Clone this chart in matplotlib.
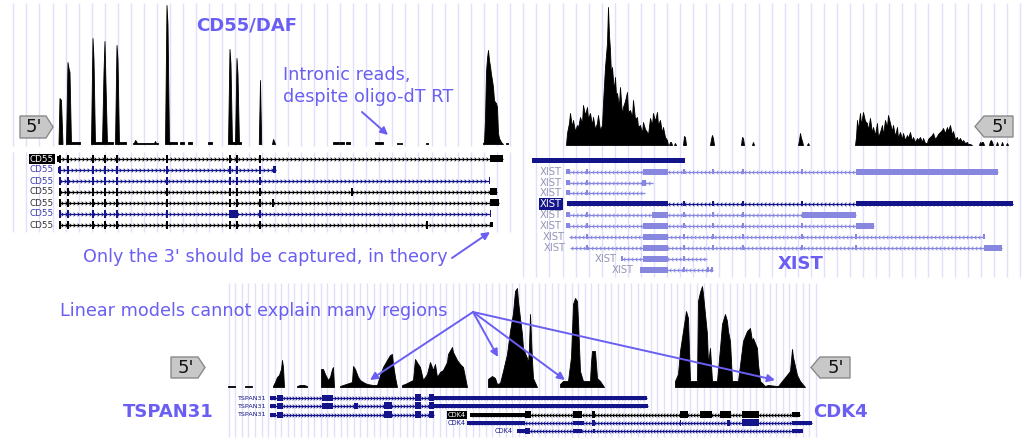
import numpy as np
import matplotlib.pyplot as plt
from matplotlib.patches import Rectangle, Polygon
from matplotlib.path import Path

# ---- coverage tracks: (positions, read heights) per covered stretch ----
cd55_cov = [
    ([58.5, 59.5, 61, 62.5], [0, 46, 44, 0]),
    ([66, 67.5, 68.5, 69.5, 71], [0, 82, 76, 72, 0]),
    ([70.5, 80], [1.5, 1.5]),
    ([91, 92.5, 93.5, 95], [0, 106, 85, 0]),
    ([94.5, 102], [1.5, 1.5]),
    ([102, 103.5, 104.5, 105.5, 107], [0, 72, 103, 60, 0]),
    ([106.5, 113], [1.5, 1.5]),
    ([115, 116.5, 117.5, 119], [0, 99, 85, 0]),
    ([118.5, 126], [1.5, 1.5]),
    ([133, 134, 135, 136, 137, 150, 154, 155, 156, 158], [1, 1, 4, 3, 1, 1, 1, 3, 1, 1]),
    ([165, 166.5, 167.5, 169], [0, 139, 120, 0]),
    ([168.5, 177], [1.5, 1.5]),
    ([180, 184], [1.5, 1.5]), ([188, 192], [1.5, 1.5]), ([208, 212], [1.5, 1.5]),
    ([228, 229.5, 230.5, 232], [0, 95, 80, 0]),
    ([231.5, 235.5], [1.5, 1.5]),
    ([235, 236.5, 237.5, 239], [0, 86, 70, 0]),
    ([238.5, 241], [1.5, 1.5]),
    ([258.8, 260, 261.2], [0, 64, 0]),
    ([272, 273, 274, 275], [0, 5, 3, 0]),
    ([333, 339], [1.5, 1.5]), ([340, 344], [1.5, 1.5]), ([346, 350], [1.5, 1.5]),
    ([375, 383], [1.5, 1.5]), ([397, 399], [1, 1]), ([400, 402], [1, 1]), ([426, 427.5], [1, 1]),
    ([483, 484, 485, 486, 487, 488, 489, 490, 491, 492, 493, 494, 495, 496, 497, 498, 499, 500, 501, 503],
     [1, 2, 25, 72, 86, 94, 84, 78, 70, 64, 57, 44, 42, 41, 37, 11, 6, 4, 2, 0]),
    ([506, 508], [1, 1]),
]

xist_cov = [
    ([566, 567, 569, 570, 572, 573, 575, 577, 578, 580, 582, 583, 585, 587, 588, 590, 592, 593, 595,
      597, 598, 600, 602, 603, 604, 605, 606, 607, 608, 609, 610, 611, 612, 613, 614, 615, 616, 617,
      618, 619, 620, 622, 623, 625, 627, 628, 630, 632, 633, 635, 637, 638, 640, 642, 643, 645, 647,
      648, 650, 652, 653, 655, 657, 658, 660, 662, 663, 665, 667, 668],
     [0, 12, 22, 32, 18, 25, 14, 20, 17, 28, 22, 40, 30, 38, 26, 32, 20, 28, 16, 22, 30, 15, 20, 42,
      60, 78, 90, 102, 138, 110, 95, 70, 78, 65, 55, 68, 50, 52, 45, 40, 58, 30, 38, 44, 53, 33, 35,
      28, 45, 26, 28, 18, 20, 12, 23, 16, 13, 10, 27, 20, 32, 24, 33, 20, 25, 12, 18, 8, 5, 0]),
    ([669, 670, 671, 672], [0, 3, 3, 0]), ([674, 675, 676], [0, 2, 0]),
    ([683, 684, 685, 686], [0, 9, 8, 0]),
    ([710, 711, 712, 713, 714], [0, 6, 10, 7, 0]),
    ([741, 742, 743, 744], [0, 8, 7, 0]),
    ([752, 753, 754], [0, 3, 0]),
    ([798, 799, 800, 801, 802, 803], [0, 5, 12, 7, 4, 0]),
    ([807, 808, 809], [0, 2, 0]),
    ([855, 856, 857, 858, 860, 861, 863, 865, 867, 868, 870, 872, 873, 875, 877, 878, 880, 882, 883,
      885, 887, 888, 890, 892, 893, 895, 897, 898, 900, 902, 903, 905, 907, 908, 910, 912, 913, 915,
      917, 918, 920, 922, 923, 925, 927, 928, 930, 932, 933, 935, 937, 938, 940, 942, 943, 945, 947,
      948, 950, 952, 953, 955, 957, 958, 960, 962, 963, 965, 967, 968, 970, 972],
     [0, 8, 25, 15, 32, 20, 33, 24, 22, 15, 27, 12, 18, 10, 22, 8, 13, 20, 10, 25, 18, 30, 22, 14, 20,
      9, 18, 7, 13, 6, 12, 5, 10, 7, 13, 4, 8, 3, 7, 5, 8, 3, 7, 2, 2, 6, 8, 10, 12, 6, 9, 11, 13, 15,
      17, 12, 18, 14, 20, 10, 14, 6, 8, 4, 7, 3, 5, 2, 3, 1, 1, 0]),
    ([979, 980, 981, 982, 983, 984], [0, 3, 2, 3, 3, 0]),
    ([989, 990, 991, 992, 993], [0, 4, 5, 3, 0]),
    ([996, 997, 998], [0, 3, 0]), ([1001, 1002, 1003], [0, 3, 0]), ([1006, 1007, 1008], [0, 2, 0]),
]

bottom_cov = [
    ([228, 235], [1, 1]), ([245, 252], [1, 1]),
    ([273, 275, 277, 279, 281, 282, 283, 284], [1, 5, 10, 12, 18, 27, 20, 0]),
    ([297, 300, 304, 307], [1, 2, 2, 1]),
    ([321, 323, 325, 328, 330, 332, 333, 334], [18, 18, 13, 7, 10, 18, 20, 0]),
    ([340, 352, 353, 355, 358, 360, 363, 367, 373, 377, 380, 383, 387, 390, 392, 393, 395, 397],
     [1, 5, 21, 18, 10, 7, 5, 3, 2, 2, 12, 20, 27, 32, 33, 23, 10, 0]),
    ([402, 405, 413, 415, 418, 420, 423, 427, 430, 433, 435, 437, 440, 443, 447, 448, 452, 453, 457,
      460, 463, 467],
     [2, 3, 7, 28, 23, 20, 7, 13, 25, 17, 23, 10, 15, 17, 25, 33, 40, 35, 27, 23, 20, 0]),
    ([488, 492, 495, 497, 500, 503, 507, 510, 513, 515, 517, 518, 520, 522, 523, 527, 528, 529, 530,
      531, 532, 533, 537],
     [8, 11, 9, 3, 4, 16, 33, 56, 74, 96, 99, 86, 69, 53, 39, 29, 23, 40, 73, 50, 26, 9, 0]),
    ([560, 563, 568, 571, 572, 573, 575, 577, 578, 580, 583, 590, 591, 592, 595, 597, 600, 604],
     [3, 6, 6, 30, 56, 83, 89, 86, 66, 16, 6, 6, 25, 36, 36, 9, 6, 0]),
    ([675, 678, 680, 683, 686, 688, 690, 692, 697, 698, 700, 702, 703, 707, 708, 710, 712, 717, 720,
      722, 725, 727, 728, 730, 732, 738, 743, 747, 750, 752, 753, 757, 758, 760, 765, 768, 777, 778,
      790, 792, 793, 797, 800, 805],
     [6, 13, 36, 56, 76, 69, 6, 6, 6, 86, 95, 101, 93, 53, 23, 39, 6, 6, 39, 63, 73, 66, 56, 46, 6,
      6, 46, 56, 59, 46, 49, 39, 23, 6, 1, 2, 1, 1, 16, 38, 30, 12, 6, 0]),
]

# ---- transcript models: (y, line start, line end, exons [(start, end, height)], extra ticks) ----
cd55_ticks = [60, 68, 93, 105, 117, 167, 230, 237, 260]
cd55_rows = [
    (159, 57, 503, [(56.5, 59, 6), (490, 503, 7)], []),
    (170, 58, 276, [(58, 60, 6), (272.5, 276, 7)], []),
    (181, 59, 489, [(59, 61, 6), (488.5, 489.5, 7)], []),
    (192, 59, 497, [(59, 61, 6), (490, 497, 7)], [352]),
    (203, 60, 499, [(490, 499, 7)], [273]),
    (214, 60, 490, [(229, 237, 8), (489.5, 490.5, 7)], []),
    (225, 60, 492, [(490, 492.5, 5)], [427]),
]
cd55_style = ['sel', 'blue', 'blue', 'black', 'black', 'blue', 'black']

xist_bar = (532, 685)
xist_rows = [
    (172, 567, 998, [(566, 570, 5), (643, 668, 6), (856, 998, 6)], [587, 684, 713, 743, 802]),
    (183, 567, 653, [(566, 570, 5), (642, 646, 6)], [587]),
    (193, 567, 645, [(566, 570, 5)], [587]),
    (204, 567, 1013, [(567, 668, 5), (856, 1013, 5)], [684, 713, 743, 802]),
    (215, 567, 856, [(566, 570, 5), (652, 668, 6), (802, 856, 6)], [587, 684, 713, 743]),
    (226, 567, 874, [(566, 570, 5), (643, 668, 6), (856, 874, 6)], [587, 684, 713, 743, 802]),
    (237, 569, 984, [(643, 668, 6)], [587, 684, 713, 743, 802, 856, 984]),
    (248, 570, 1002, [(643, 668, 6), (984, 1002, 6)], [587, 684, 713, 743, 802, 856]),
    (259, 622, 707, [(621, 623, 5), (643, 668, 6)], [684]),
    (270, 640, 713, [(640, 668, 6), (707, 709, 5), (711, 713, 5)], [684]),
]
xist_label_x = [562, 562, 562, 562, 562, 562, 565, 566, 617, 634]

tspan_rows = [
    (398, 270, 647, [(270, 276, 4), (277, 283, 6.5), (322, 333, 6.5), (415, 421, 7), (429, 434, 7), (434, 647, 4)]),
    (406, 270, 648, [(270, 276, 4), (277, 283, 6.5), (322, 333, 6.5), (354, 358, 6), (384, 392, 7),
                     (415, 421, 7), (429, 434, 7), (434, 648, 4)]),
    (415, 270, 434, [(270, 276, 4), (277, 283, 6.5), (384, 392, 7), (415, 421, 7), (429, 434, 7)]),
]
cdk4_rows = [
    (415, 470, 800, [(470, 525, 4), (525, 531, 7), (573, 582, 7), (592, 595, 7), (680, 688, 7),
                     (700, 712, 7), (720, 731, 7), (742, 759, 7), (792, 800, 5)]),
    (423, 467, 812, [(467, 525, 4), (573, 584, 4), (592, 595, 6), (679.5, 681, 6), (727, 730, 6),
                     (742, 759, 7), (792, 812, 4)]),
    (431, 517, 802, [(517, 525, 4), (525, 530, 6), (573, 582, 4), (593, 595, 4), (792, 803, 4)]),
]

ACCENT = '#6a5ff2'
NAVY = '#14148a'
LIGHT = '#8787e0'

fig = plt.figure(figsize=(10.24, 4.4), dpi=100)
ax = fig.add_axes([0, 0, 1, 1])
ax.set_xlim(0, 1024)
ax.set_ylim(440, 0)
ax.axis('off')

# browser background grids
grid_c = '#e0e0fb'
xs = np.arange(13.3, 516, 13.07)
ax.vlines(xs, 3, 146, color=grid_c, lw=1, zorder=0)
ax.vlines(xs, 152, 232, color=grid_c, lw=1, zorder=0)
ax.vlines(np.arange(523.3, 1022, 13.07), 3, 277, color=grid_c, lw=1, zorder=0)
ax.vlines(np.arange(228.5, 816, 6.6), 283, 437, color=grid_c, lw=1, zorder=0)


def draw_cov(segments, base):
    for px, h in segments:
        ax.fill_between(px, base, base - np.array(h), color='black', lw=0.6, zorder=2)


draw_cov(cd55_cov, 144)
draw_cov(xist_cov, 145)
draw_cov(bottom_cov, 387)

chev_r = Path([(-0.5, 1), (0.5, 0), (-0.5, -1)], [Path.MOVETO, Path.LINETO, Path.LINETO])
chev_l = Path([(0.5, 1), (-0.5, 0), (0.5, -1)], [Path.MOVETO, Path.LINETO, Path.LINETO])


def draw_tx(y, x0, x1, exons, ticks, color, strand, tick_h=8, step=4.0):
    ax.plot([x0, x1], [y, y], color=color, lw=0.9, zorder=3, solid_capstyle='butt')
    cx = np.arange(x0 + 2, x1 - 1, step)
    ax.plot(cx, np.full(len(cx), y), ls='none', marker=chev_r if strand > 0 else chev_l,
            ms=2.6, mew=0.6, mec=color, mfc='none', zorder=3)
    for a, b, h in exons:
        ax.add_patch(Rectangle((a, y - h / 2), b - a, h, color=color, lw=0, zorder=4))
    for t in ticks:
        ax.add_patch(Rectangle((t - 0.7, y - tick_h / 2), 1.4, tick_h, color=color, lw=0, zorder=4))


def label(x, y, text, fg, bg=None, size=6.3):
    kw = dict(ha='right', va='center', fontsize=size, color=fg, zorder=5)
    if bg is not None:
        kw['bbox'] = dict(boxstyle='square,pad=0.08', fc=bg, ec='none')
    ax.text(x, y, text, **kw)


# CD55 transcripts
for (y, a, b, ex, extra), st in zip(cd55_rows, cd55_style):
    col = NAVY if st == 'blue' else 'black'
    ticks = [t for t in cd55_ticks if a <= t <= b] + extra
    draw_tx(y, a, b, ex, ticks, col, +1)
    if st == 'sel':
        label(54, y, 'CD55', 'white', 'black')
    else:
        label(54, y, 'CD55', '#3b3bb3' if st == 'blue' else '#333333')

# XIST transcripts
ax.add_patch(Rectangle((xist_bar[0], 161 - 2.5), xist_bar[1] - xist_bar[0], 5, color=NAVY, lw=0, zorder=4))
for i, ((y, a, b, ex, ticks), lx) in enumerate(zip(xist_rows, xist_label_x)):
    if i == 3:
        draw_tx(y, a, b, ex, ticks, NAVY, -1, tick_h=5)
        label(lx, y, 'XIST', 'white', NAVY, size=7.2)
    else:
        draw_tx(y, a, b, ex, ticks, LIGHT, -1, tick_h=5)
        label(lx, y, 'XIST', '#9494b4', size=7.2)

# TSPAN31 / CDK4 transcripts
for y, a, b, ex in tspan_rows:
    draw_tx(y, a, b, ex, [], NAVY, +1, step=3.0)
    label(266, y, 'TSPAN31', NAVY, size=4.6)
for i, (y, a, b, ex) in enumerate(cdk4_rows):
    if i == 0:
        draw_tx(y, a, b, ex, [], 'black', -1, step=3.0)
        label(466, y, 'CDK4', 'white', 'black', size=4.8)
    else:
        draw_tx(y, a, b, ex, [], NAVY, -1, step=3.0)
        label(466 if i == 1 else 513, y, 'CDK4', NAVY, size=4.8)


# 5' end markers
def five_prime(x0, x1, y0, y1, right):
    ym = (y0 + y1) / 2
    if right:
        pts = [(x0, y0), (x1 - 7, y0), (x1, ym), (x1 - 7, y1), (x0, y1)]
        tx = (x0 + x1 - 7) / 2
    else:
        pts = [(x0, ym), (x0 + 9, y0), (x1, y0), (x1, y1), (x0 + 9, y1)]
        tx = (x0 + 9 + x1) / 2
    ax.add_patch(Polygon(pts, closed=True, fc='#c8c8c8', ec='#8a8a8a', lw=1, zorder=6))
    ax.text(tx + 1, ym + 0.5, "5'", ha='center', va='center', fontsize=13, color='#111111', zorder=7)


five_prime(20, 53, 116, 138, True)
five_prime(975, 1013, 116, 137, False)
five_prime(171, 205, 357, 378, True)
five_prime(811, 850, 357, 378, False)

# titles and annotations
ax.text(196, 25, 'CD55/DAF', fontsize=13, fontweight='bold', color=ACCENT, va='center', zorder=7)
ax.text(778, 264, 'XIST', fontsize=13, fontweight='bold', color=ACCENT, va='center', zorder=7)
ax.text(123, 412, 'TSPAN31', fontsize=13, fontweight='bold', color=ACCENT, va='center', zorder=7)
ax.text(813, 412, 'CDK4', fontsize=13, fontweight='bold', color=ACCENT, va='center', zorder=7)

ax.text(283, 75, 'Intronic reads,', fontsize=12.7, color=ACCENT, va='center', zorder=7)
ax.text(283, 97, 'despite oligo-dT RT', fontsize=12.7, color=ACCENT, va='center', zorder=7)
ax.text(83, 257, "Only the 3' should be captured, in theory", fontsize=12.7, color=ACCENT,
        va='center', zorder=7)
ax.text(60, 311, 'Linear models cannot explain many regions', fontsize=12.7, color=ACCENT,
        va='center', zorder=7)

arrow_kw = dict(arrowstyle='-|>', color=ACCENT, lw=1.4, mutation_scale=11, shrinkA=0, shrinkB=0)
ax.annotate('', xy=(388, 135), xytext=(362, 112), arrowprops=arrow_kw, zorder=8)
ax.annotate('', xy=(490, 232), xytext=(452, 258), arrowprops=arrow_kw, zorder=8)
for hx, hy in [(370, 380), (498, 357), (565, 380), (775, 380)]:
    ax.annotate('', xy=(hx, hy), xytext=(473, 312), arrowprops=arrow_kw, zorder=8)

fig.savefig('out.png', dpi=100)
